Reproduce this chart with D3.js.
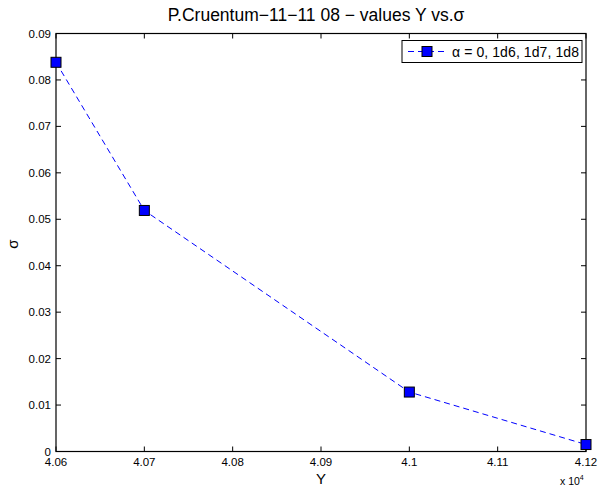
<!DOCTYPE html>
<html><head><meta charset="utf-8">
<script src="https://cdn.jsdelivr.net/npm/d3@7"></script>
<style>body{margin:0;background:#fff}svg{display:block;font-family:"Liberation Sans",Arial,Helvetica,sans-serif}</style>
</head><body><svg id="c" width="599" height="488"></svg>
<script>
const xValues = [40600, 40700, 41000, 41200];
const sigmaValues = [0.0838, 0.0519, 0.0128, 0.0015];
const xTicks = [40600, 40700, 40800, 40900, 41000, 41100, 41200];
const xTickLabels = ["4.06", "4.07", "4.08", "4.09", "4.1", "4.11", "4.12"];
const yTicks = [0, 0.01, 0.02, 0.03, 0.04, 0.05, 0.06, 0.07, 0.08, 0.09];
const yTickLabels = ["0", "0.01", "0.02", "0.03", "0.04", "0.05", "0.06", "0.07", "0.08", "0.09"];
const titleText = "P.Cruentum\u221211\u221211 08 \u2212 values Y vs.\u03c3";
const legendText = "\u03b1 = 0, 1d6, 1d7, 1d8";

const svg = d3.select("#c");
const L = 56, R = 586, T = 33.5, B = 451.5;
const x = d3.scaleLinear().domain([40600, 41200]).range([L, R]);
const y = d3.scaleLinear().domain([0, 0.09]).range([B, T]);

const g = svg.append("g");
xTicks.forEach(v => {
  g.append("line").attr("x1", x(v)).attr("x2", x(v)).attr("y1", B).attr("y2", B - 5).attr("stroke", "#000");
  g.append("line").attr("x1", x(v)).attr("x2", x(v)).attr("y1", T).attr("y2", T + 5).attr("stroke", "#000");
});
yTicks.forEach(v => {
  g.append("line").attr("x1", L).attr("x2", L + 5).attr("y1", y(v)).attr("y2", y(v)).attr("stroke", "#000");
  g.append("line").attr("x1", R).attr("x2", R - 5).attr("y1", y(v)).attr("y2", y(v)).attr("stroke", "#000");
});
xTicks.forEach((v, i) => {
  g.append("text").attr("x", x(v)).attr("y", 466).attr("text-anchor", "middle")
    .attr("font-size", 11.5).attr("fill", "#000").text(xTickLabels[i]);
});
yTicks.forEach((v, i) => {
  g.append("text").attr("x", 51).attr("y", y(v) + 4).attr("text-anchor", "end")
    .attr("font-size", 11.5).attr("fill", "#000").text(yTickLabels[i]);
});
svg.append("rect").attr("x", L).attr("y", T).attr("width", R - L).attr("height", B - T)
  .attr("fill", "none").attr("stroke", "#000").attr("stroke-width", 1.2);

const pts = xValues.map((v, i) => [x(v), y(sigmaValues[i])]);
svg.append("path").attr("d", d3.line()(pts)).attr("fill", "none")
  .attr("stroke", "#0000ff").attr("stroke-width", 1).attr("stroke-dasharray", "6,4");
svg.selectAll("rect.m").data(pts).enter().append("rect").attr("class", "m")
  .attr("x", d => d[0] - 5).attr("y", d => d[1] - 5).attr("width", 10).attr("height", 10)
  .attr("fill", "#0000ff").attr("stroke", "#000").attr("stroke-width", 1);

svg.append("text").attr("x", 316).attr("y", 21).attr("text-anchor", "middle")
  .attr("font-size", 17.5).attr("fill", "#000").text(titleText);
svg.append("text").attr("x", 321).attr("y", 484).attr("text-anchor", "middle")
  .attr("font-size", 15).attr("fill", "#000").text("Y");
svg.append("text").attr("transform", "translate(18,244) rotate(-90)").attr("text-anchor", "middle")
  .attr("font-size", 15).attr("fill", "#000").text("\u03c3");
const ex = svg.append("text").attr("x", 560).attr("y", 485).attr("font-size", 10.5).attr("fill", "#000");
ex.append("tspan").text("x 10");
ex.append("tspan").attr("dy", -5).attr("font-size", 7).text("4");

svg.append("rect").attr("x", 402).attr("y", 40.5).attr("width", 180).attr("height", 22)
  .attr("fill", "#fff").attr("stroke", "#000").attr("stroke-width", 1);
svg.append("line").attr("x1", 408).attr("x2", 447).attr("y1", 51.5).attr("y2", 51.5)
  .attr("stroke", "#0000ff").attr("stroke-dasharray", "6,4").attr("stroke-dashoffset", 0);
svg.append("rect").attr("x", 422).attr("y", 46.5).attr("width", 10).attr("height", 10)
  .attr("fill", "#0000ff").attr("stroke", "#000");
svg.append("text").attr("x", 452).attr("y", 56.5).attr("font-size", 14).attr("textLength", 127)
  .attr("fill", "#000").text(legendText);
</script></body></html>
